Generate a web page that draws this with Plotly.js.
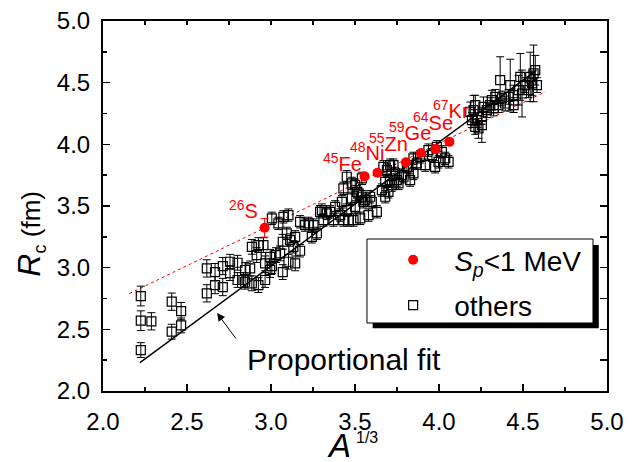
<!DOCTYPE html>
<html>
<head>
<meta charset="utf-8">
<script src="https://cdn.plot.ly/plotly-3.0.1.min.js"></script>
<style>html,body{margin:0;padding:0;background:#fff;}#chart{width:637px;height:462px;}</style>
</head>
<body>
<div id="chart"></div>
<script>
// ---- data ----
// proton-drip (S_p < 1 MeV) nuclei
const dripLabels = ["26", "45", "48", "55", "59", "64", "67"];
const dripElems  = ["S", "Fe", "Ni", "Zn", "Ge", "Se", "Kr"];
const dripX   = [2.962, 3.557, 3.634, 3.803, 3.893, 3.980, 4.062];
const dripY   = [3.323, 3.740, 3.770, 3.855, 3.930, 3.965, 4.020];
const dripErr = [0.075, 0.02, 0.02, 0.02, 0.02, 0.02, 0.02];

// other nuclei
const othersX = [2.225,2.225,2.225,2.288,2.409,2.409,2.465,2.465,2.618,2.618,2.667,2.667,2.713,2.713,2.756,2.756,2.801,2.801,2.836,2.846,
 2.846,2.876,2.886,2.886,2.915,2.925,2.925,2.955,2.965,2.965,2.995,2.995,3.005,3.005,3.030,3.044,3.054,3.070,3.070,3.074,
 3.094,3.104,3.104,3.114,3.133,3.144,3.144,3.173,3.173,3.203,3.223,3.243,3.253,3.273,3.292,3.303,3.312,3.332,3.352,3.372,
 3.382,3.412,3.422,3.431,3.431,3.451,3.451,3.461,3.481,3.481,3.491,3.501,3.501,3.511,3.521,3.531,3.541,3.541,3.550,3.560,
 3.580,3.590,3.600,3.630,3.660,3.669,3.680,3.680,3.690,3.699,3.709,3.709,3.719,3.729,3.739,3.749,3.759,3.779,3.789,3.809,
 3.818,3.828,3.848,3.848,3.868,3.888,3.918,3.937,3.958,3.977,3.987,3.997,4.017,4.037,4.057,
 4.186,4.196,4.206,4.216,4.216,4.226,4.235,4.255,4.255,4.265,4.285,4.305,4.315,4.325,4.335,4.354,4.364,4.375,4.394,4.414,
 4.424,4.444,4.444,4.474,4.484,4.494,4.513,4.533,4.543,4.553,4.563,4.573,4.583];
const othersY = [2.770,2.570,2.332,2.565,2.724,2.481,2.648,2.532,2.994,2.792,2.964,2.859,3.013,2.843,3.048,2.956,3.040,2.900,2.900,2.981,
 2.886,2.994,3.169,2.873,3.102,3.183,2.859,3.183,3.035,2.900,3.088,2.981,3.400,3.013,3.102,3.359,3.116,3.210,2.964,3.412,
 3.278,3.426,3.048,3.224,3.169,3.250,3.035,3.372,3.137,3.345,3.359,3.250,3.345,3.278,3.453,3.467,3.386,3.440,3.453,3.386,
 3.493,3.426,3.534,3.643,3.386,3.737,3.467,3.386,3.562,3.683,3.386,3.669,3.493,3.615,3.602,3.400,3.724,3.575,3.534,3.548,
 3.426,3.575,3.534,3.453,3.629,3.818,3.696,3.575,3.791,3.615,3.831,3.710,3.669,3.831,3.764,3.710,3.683,3.750,3.737,3.818,
 3.818,3.710,3.886,3.764,3.845,3.899,3.831,3.953,3.912,3.818,3.980,3.858,3.939,3.886,3.858,
 4.263,4.196,4.277,4.141,4.318,4.196,4.129,4.223,4.156,4.304,4.277,4.318,4.358,4.291,4.385,4.318,4.520,4.372,4.331,4.385,
 4.480,4.399,4.318,4.439,4.547,4.412,4.480,4.439,4.547,4.494,4.575,4.601,4.480];
const othersErr = [0.08,0.08,0.06,0.07,0.07,0.06,0.07,0.06,0.07,0.07,0.07,0.07,0.07,0.07,0.06,0.06,0.06,0.06,0.06,0.06,
 0.06,0.06,0.06,0.06,0.06,0.06,0.06,0.06,0.06,0.06,0.06,0.06,0.05,0.06,0.06,0.05,0.06,0.06,0.06,0.05,
 0.05,0.05,0.06,0.05,0.05,0.05,0.06,0.05,0.05,0.05,0.05,0.05,0.05,0.05,0.05,0.05,0.05,0.05,0.05,0.05,
 0.05,0.05,0.05,0.05,0.05,0.05,0.05,0.05,0.05,0.05,0.05,0.05,0.05,0.05,0.05,0.05,0.05,0.05,0.05,0.05,
 0.05,0.05,0.05,0.05,0.05,0.05,0.05,0.05,0.05,0.05,0.05,0.05,0.05,0.05,0.05,0.05,0.05,0.05,0.05,0.05,
 0.05,0.05,0.05,0.05,0.05,0.05,0.05,0.05,0.05,0.05,0.05,0.05,0.05,0.05,0.05,
 0.08,0.06,0.12,0.06,0.08,0.06,0.08,0.06,0.14,0.08,0.06,0.06,0.08,0.06,0.06,0.06,0.19,0.06,0.06,0.06,
 0.21,0.08,0.06,0.12,0.19,0.19,0.06,0.06,0.20,0.10,0.23,0.12,0.06];

// fits
const propFitX = [2.22, 4.58];
const propFitY = [2.23, 4.60];
const linFitX  = [2.157, 4.633];
const linFitY  = [2.79, 4.426];

// label offsets (px) relative to each red point
const labelDX = [-21, -22, -11, -17, -11, -3, 2];
const labelDY = [18, 14, 21, 20, 21, 27, 32];

const FONT = "Liberation Sans, Arial, Helvetica, sans-serif";

const traces = [
  {x: linFitX, y: linFitY, mode: 'lines', line: {color: 'red', width: 1, dash: '3px,3px'}, showlegend: false, hoverinfo: 'skip'},
  {x: propFitX, y: propFitY, mode: 'lines', line: {color: 'black', width: 1.5}, showlegend: false, hoverinfo: 'skip'},
  {x: othersX, y: othersY, mode: 'markers', name: 'others', legendrank: 2, legendgroup: 'g2',
   marker: {symbol: 'square-open', size: 9, color: 'black', line: {width: 1.2}},
   error_y: {type: 'data', array: othersErr, visible: true, color: 'black', thickness: 1, width: 4}},
  {x: dripX, y: dripY, mode: 'markers', name: '<i>S</i><sub><i>p</i></sub>&lt;1 MeV', legendrank: 1, legendgroup: 'g1',
   marker: {symbol: 'circle', size: 10, color: 'red'},
   error_y: {type: 'data', array: dripErr, visible: true, color: 'red', thickness: 1, width: 4}},
  {x: [], y: [], xaxis: 'x2', yaxis: 'y2', showlegend: false, hoverinfo: 'skip'}
];

const annotations = dripX.map((x, i) => ({
  x: x, y: dripY[i], xref: 'x', yref: 'y', showarrow: false,
  text: '<sup>' + dripLabels[i] + '</sup>' + dripElems[i],
  font: {family: FONT, size: 20, color: 'red'},
  xanchor: 'center', yanchor: 'middle', xshift: labelDX[i], yshift: labelDY[i]
}));

annotations.push(
  {x: 2.679, y: 2.632, xref: 'x', yref: 'y', ax: 20, ay: 27, text: '', showarrow: true,
   arrowhead: 2, arrowsize: 1.6, arrowwidth: 1, arrowcolor: 'black'},
  {x: 0.2817, y: 0.084, xref: 'paper', yref: 'paper', xanchor: 'left', yanchor: 'middle', showarrow: false,
   text: 'Proportional fit', font: {family: FONT, size: 30, color: 'black'}},
  {x: -0.145, y: 0.425, xref: 'paper', yref: 'paper', xanchor: 'center', yanchor: 'middle', showarrow: false,
   textangle: -90, text: '<span style="font-size:32px"><i>R</i></span><sub>c</sub> (fm)',
   font: {family: FONT, size: 26, color: 'black'}},
  {x: 0.496, y: -0.146, xref: 'paper', yref: 'paper', xanchor: 'right', yanchor: 'middle', showarrow: false,
   height: 30, text: '<i>A</i>', font: {family: FONT, size: 33, color: 'black'}},
  {x: 0.498, y: -0.126, xref: 'paper', yref: 'paper', xanchor: 'left', yanchor: 'middle', showarrow: false,
   text: '1/3', font: {family: FONT, size: 16, color: 'black'}}
);

const shapes = [
  {type: 'rect', xref: 'paper', yref: 'paper', x0: 0.535, x1: 0.9837, y0: 0.1694, y1: 0.3946,
   fillcolor: 'black', line: {width: 0}, layer: 'above'},
  {type: 'rect', xref: 'paper', yref: 'paper', x0: 0.5238, x1: 0.9722, y0: 0.1838, y1: 0.4108,
   fillcolor: 'white', line: {color: 'black', width: 1}, layer: 'above'}
];

const axBase = {range: [2, 5], autorange: false, showgrid: false, zeroline: false,
  showline: true, linecolor: 'black', linewidth: 2, mirror: true,
  ticks: 'inside', ticklen: 7, tickwidth: 1.5, tickcolor: 'black', dtick: 0.5, tick0: 2,
  tickformat: '.1f', tickfont: {family: FONT, size: 24, color: 'black'},
  minor: {ticks: 'inside', ticklen: 4, tickwidth: 1.5, tickcolor: 'black', dtick: 0.25, tick0: 2}};

const layout = {
  width: 637, height: 462,
  margin: {l: 103, r: 30, t: 21, b: 71, pad: 0},
  paper_bgcolor: 'white', plot_bgcolor: 'white',
  font: {family: FONT, color: 'black'},
  xaxis: Object.assign({}, axBase, {ticklabelstandoff: 8}),
  yaxis: Object.assign({}, axBase, {ticklabelstandoff: 6}),
  xaxis2: {overlaying: 'x', side: 'top', anchor: 'y', range: [2, 5], showgrid: false, zeroline: false,
    showline: false, ticks: 'inside', ticklen: 4, tickwidth: 1.5, tickcolor: 'black', dtick: 0.25, tick0: 2, showticklabels: false},
  yaxis2: {overlaying: 'y', side: 'right', anchor: 'x', range: [2, 5], showgrid: false, zeroline: false,
    showline: false, ticks: 'inside', ticklen: 7, tickwidth: 1.5, tickcolor: 'black', dtick: 0.25, tick0: 2, showticklabels: false},
  showlegend: true,
  legend: {x: 0.534, y: 0.4216, xanchor: 'left', yanchor: 'top', bgcolor: 'rgba(0,0,0,0)', borderwidth: 0,
    font: {family: FONT, size: 28, color: 'black'}, itemwidth: 72, tracegroupgap: 6},
  annotations: annotations,
  shapes: shapes,
  hovermode: false
};

Plotly.newPlot('chart', traces, layout, {displayModeBar: false, staticPlot: true});
</script>
</body>
</html>
